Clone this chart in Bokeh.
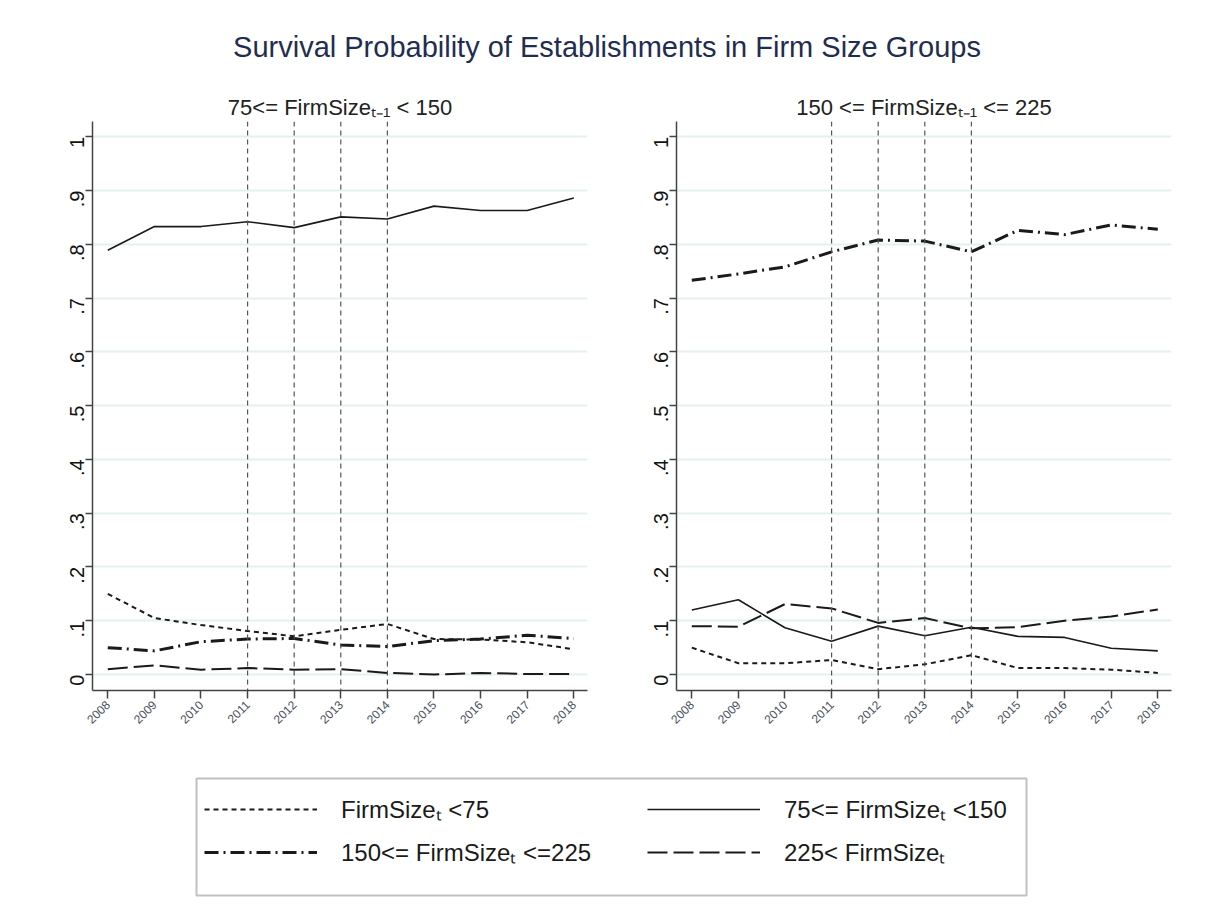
import math
from bokeh.plotting import figure
from bokeh.models import Range1d, FixedTicker, Span, Legend, LegendItem, BoxAnnotation, Div
from bokeh.layouts import column, row
from bokeh.embed import file_html
from bokeh.resources import INLINE

# ---------------- data ----------------
years = [2008, 2009, 2010, 2011, 2012, 2013, 2014, 2015, 2016, 2017, 2018]
ref_years = [2011, 2012, 2013, 2014]
y_ticks = [0, 0.1, 0.2, 0.3, 0.4, 0.5, 0.6, 0.7, 0.8, 0.9, 1.0]
y_tick_labels = ["0", ".1", ".2", ".3", ".4", ".5", ".6", ".7", ".8", ".9", "1"]

main_title = "Survival Probability of Establishments in Firm Size Groups"
panel_titles = ["75<= FirmSizeₜ₋₁ < 150", "150 <= FirmSizeₜ₋₁ <= 225"]
series_labels = ["FirmSizeₜ <75", "75<= FirmSizeₜ <150",
                 "150<= FirmSizeₜ <=225", "225< FirmSizeₜ"]

# panel 1: 75 <= FirmSize(t-1) < 150
p1_lt75 = [0.150, 0.105, 0.092, 0.081, 0.071, 0.083, 0.094, 0.066, 0.065, 0.060, 0.047]
p1_75_150 = [0.789, 0.833, 0.833, 0.842, 0.831, 0.851, 0.847, 0.871, 0.863, 0.863, 0.886]
p1_150_225 = [0.050, 0.044, 0.061, 0.066, 0.067, 0.055, 0.052, 0.063, 0.066, 0.073, 0.067]
p1_gt225 = [0.010, 0.017, 0.009, 0.012, 0.009, 0.010, 0.003, 0.000, 0.003, 0.001, 0.001]

# panel 2: 150 <= FirmSize(t-1) <= 225
p2_lt75 = [0.050, 0.021, 0.021, 0.027, 0.010, 0.019, 0.036, 0.012, 0.012, 0.009, 0.003]
p2_75_150 = [0.120, 0.139, 0.087, 0.062, 0.090, 0.072, 0.088, 0.071, 0.069, 0.049, 0.044]
p2_150_225 = [0.733, 0.745, 0.758, 0.786, 0.808, 0.806, 0.786, 0.826, 0.818, 0.836, 0.828]
p2_gt225 = [0.090, 0.089, 0.131, 0.123, 0.096, 0.105, 0.086, 0.088, 0.100, 0.108, 0.121]

# ---------------- styles ----------------
LINE_COLOR = "#1a1a1a"
styles = [
    dict(line_dash="5 4", line_width=2.0),          # <75
    dict(line_dash="solid", line_width=1.6),        # 75-150
    dict(line_dash="14 5 2 5", line_width=3.0),     # 150-225
    dict(line_dash="20 6", line_width=2.0),         # >225
]
FONT = "Liberation Sans"


def make_panel(title, series, width, border_left, border_right):
    p = figure(width=width, height=665, title=title,
               x_range=Range1d(2007.672, 2018.294), y_range=Range1d(-0.0297, 1.0284),
               min_border_left=border_left, min_border_right=border_right,
               min_border_top=42, min_border_bottom=54,
               toolbar_location=None, output_backend="svg")
    p.outline_line_color = None
    p.background_fill_color = "white"
    p.title.align = "center"
    p.title.text_font = FONT
    p.title.text_font_size = "22px"
    p.title.text_font_style = "normal"
    p.title.text_color = "#222222"
    p.title.standoff = 4

    p.xgrid.visible = False
    p.ygrid.ticker = FixedTicker(ticks=y_ticks)
    p.ygrid.grid_line_color = "#e6efef"
    p.ygrid.grid_line_width = 2

    xa = p.xaxis[0]
    xa.ticker = FixedTicker(ticks=years)
    xa.major_label_orientation = math.pi / 4
    xa.major_label_text_font_size = "12px"
    xa.major_label_text_font = FONT
    xa.major_label_text_color = "#4a5060"
    xa.major_tick_out = 8
    xa.major_tick_in = 0
    xa.minor_tick_line_color = None
    xa.axis_line_color = "#444444"
    xa.axis_line_width = 1.5
    xa.major_tick_line_color = "#444444"
    xa.major_tick_line_width = 1.5
    xa.major_label_standoff = 4

    ya = p.yaxis[0]
    ya.ticker = FixedTicker(ticks=y_ticks)
    ya.major_label_overrides = {t: l for t, l in zip(y_ticks, y_tick_labels)}
    ya.major_label_orientation = math.pi / 2
    ya.major_label_text_font_size = "20px"
    ya.major_label_text_font = FONT
    ya.major_label_text_color = "#111111"
    ya.major_tick_out = 7
    ya.major_tick_in = 0
    ya.minor_tick_line_color = None
    ya.axis_line_color = "#444444"
    ya.axis_line_width = 1.5
    ya.major_tick_line_color = "#444444"
    ya.major_tick_line_width = 1.5
    ya.major_label_standoff = 8

    for yr in ref_years:
        p.add_layout(Span(location=yr, dimension="height", line_color="#555555",
                          line_width=1.2, line_dash="5 4"))

    for vals, st in zip(series, styles):
        p.line(years, vals, line_color=LINE_COLOR, **st)
    return p


pl = make_panel(panel_titles[0], [p1_lt75, p1_75_150, p1_150_225, p1_gt225], 607, 92, 20)
pr = make_panel(panel_titles[1], [p2_lt75, p2_75_150, p2_150_225, p2_gt225], 597, 69, 33)

# ---------------- legend figure ----------------
LW = 1204
lg = figure(width=LW, height=155, x_range=Range1d(0, LW), y_range=Range1d(0, 155),
            min_border=0, toolbar_location=None, output_backend="svg",
            x_axis_location=None, y_axis_location=None)
lg.outline_line_color = None
lg.grid.visible = False
nan = float("nan")
rends = [lg.line([nan, nan], [nan, nan], line_color=LINE_COLOR, **st) for st in styles]

lg.add_layout(BoxAnnotation(left=196, right=1026, bottom=4, top=121,
                            fill_alpha=0, line_color="#333333", line_width=2))


def make_legend(idx, loc):
    return Legend(items=[LegendItem(label=series_labels[i], renderers=[rends[i]]) for i in idx],
                  location=loc, orientation="vertical",
                  border_line_color=None, background_fill_alpha=0,
                  padding=0, margin=0, spacing=10,
                  glyph_width=113, glyph_height=28, label_standoff=24, label_height=28,
                  label_text_font=FONT, label_text_font_size="24px",
                  label_text_color="#1a1a1a")


lg.add_layout(make_legend([0, 2], (204, 31)))
lg.add_layout(make_legend([1, 3], (647, 31)))

title_div = Div(text=('<div style="width:1188px;padding-left:16px;text-align:center;'
                      'font-family:\'Liberation Sans\';font-size:29px;color:#1f2d50;'
                      'padding-top:22px;">' + main_title + '</div>'),
                width=LW, height=69)

layout = column(title_div, row(pl, pr), lg)
open("out.html", "w").write(file_html(layout, INLINE))
